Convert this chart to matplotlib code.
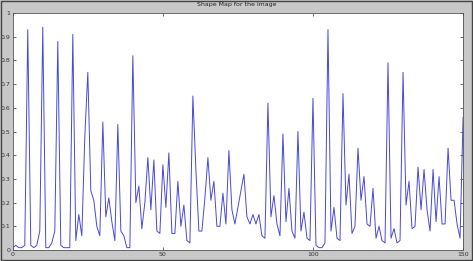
import matplotlib
matplotlib.use("Agg")
import matplotlib.pyplot as plt
import numpy as np

title = "Shape Map for the image"
x_ticks = [0, 50, 100, 150]
y_ticks = [0, 0.1, 0.2, 0.3, 0.4, 0.5, 0.6, 0.7, 0.8, 0.9, 1.0]
y_tick_labels = ["0", "0.1", "0.2", "0.3", "0.4", "0.5", "0.6", "0.7", "0.8", "0.9", "1"]

values = [
    0.01, 0.02, 0.01, 0.01, 0.02, 0.93, 0.02, 0.01, 0.02, 0.08,   # 0-9
    0.94, 0.01, 0.01, 0.03, 0.08, 0.88, 0.02, 0.01, 0.01, 0.01,   # 10-19
    0.91, 0.04, 0.15, 0.06, 0.48, 0.75, 0.25, 0.21, 0.10, 0.06,   # 20-29
    0.54, 0.14, 0.22, 0.12, 0.04, 0.53, 0.08, 0.06, 0.01, 0.01,   # 30-39
    0.82, 0.20, 0.27, 0.09, 0.20, 0.39, 0.17, 0.38, 0.08, 0.07,   # 40-49
    0.36, 0.18, 0.41, 0.07, 0.07, 0.29, 0.10, 0.19, 0.04, 0.03,   # 50-59
    0.65, 0.34, 0.08, 0.08, 0.22, 0.39, 0.21, 0.29, 0.10, 0.10,   # 60-69
    0.24, 0.11, 0.42, 0.17, 0.11, 0.18, 0.25, 0.32, 0.14, 0.11,   # 70-79
    0.15, 0.11, 0.15, 0.06, 0.05, 0.62, 0.14, 0.23, 0.11, 0.06,   # 80-89
    0.49, 0.12, 0.26, 0.08, 0.05, 0.50, 0.08, 0.16, 0.05, 0.04,   # 90-99
    0.64, 0.02, 0.01, 0.01, 0.03, 0.93, 0.08, 0.18, 0.05, 0.04,   # 100-109
    0.66, 0.19, 0.32, 0.07, 0.10, 0.43, 0.21, 0.31, 0.11, 0.10,   # 110-119
    0.26, 0.05, 0.10, 0.04, 0.03, 0.79, 0.05, 0.09, 0.03, 0.04,   # 120-129
    0.75, 0.19, 0.29, 0.09, 0.10, 0.35, 0.17, 0.34, 0.17, 0.08,   # 130-139
    0.34, 0.12, 0.31, 0.11, 0.11, 0.43, 0.21, 0.21, 0.11, 0.05,   # 140-149
    0.56,                                                         # 150
]
x = np.arange(len(values))

fig = plt.figure(figsize=(4.73, 2.61), dpi=100, facecolor="#c8c8c8")
ax = fig.add_axes([0.027, 0.042, 0.952, 0.908])
ax.set_facecolor("white")
ax.plot(x, values, color="#4848dc", lw=0.7)
ax.set_xlim(0, 150)
ax.set_ylim(0, 1)
ax.set_xticks(x_ticks)
ax.set_xticklabels([str(t) for t in x_ticks])
ax.set_yticks(y_ticks)
ax.set_yticklabels(y_tick_labels)
ax.tick_params(direction="in", length=2.5, width=0.5, labelsize=4.5, pad=1.5,
               top=True, right=True, colors="#333333")
for s in ax.spines.values():
    s.set_linewidth(0.6)
    s.set_color("#555555")
fig.text(0.5, 0.982, title, ha="center", va="center", fontsize=4.5, color="#222222")
# outer frame
fig.patches.append(plt.Rectangle((0.002, 0.004), 0.996, 0.992, transform=fig.transFigure,
                                 fill=False, edgecolor="#444444", lw=1.0))
fig.savefig("out.png", dpi=100, facecolor=fig.get_facecolor())
